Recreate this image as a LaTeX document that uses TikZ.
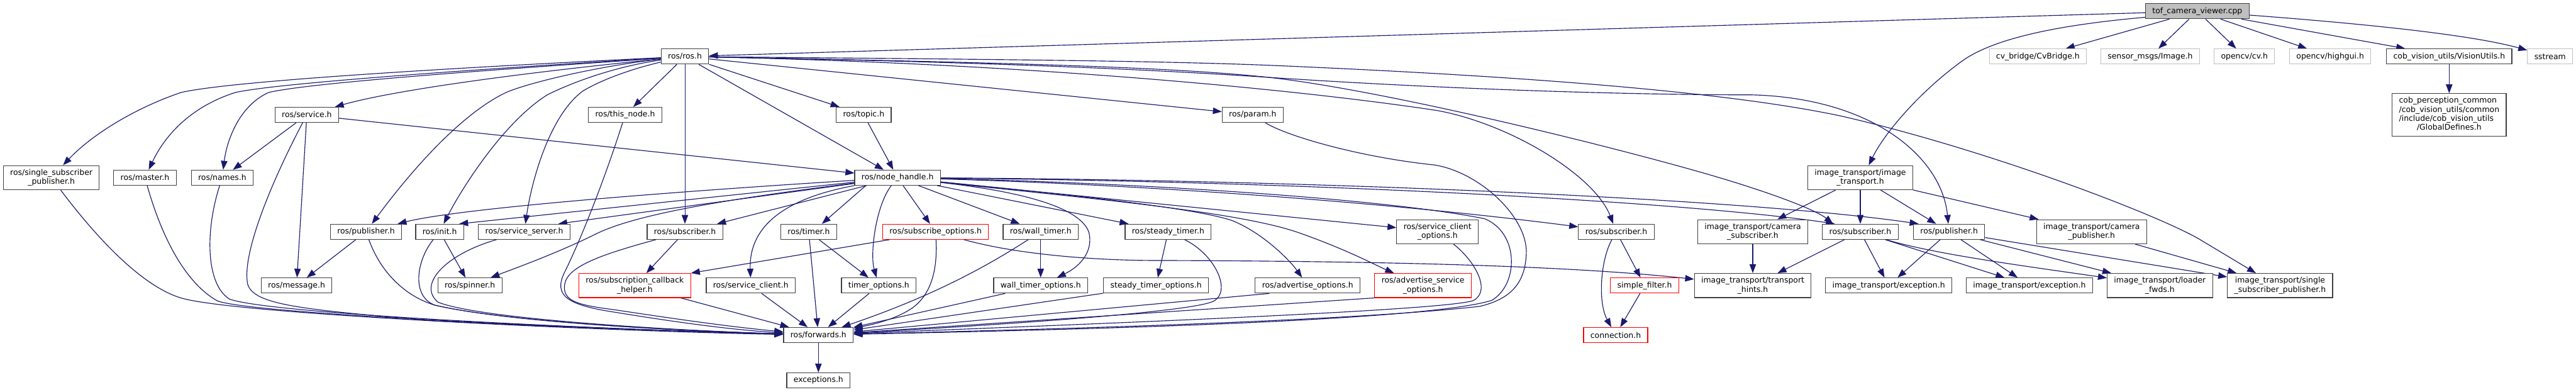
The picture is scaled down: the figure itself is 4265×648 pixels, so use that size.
\documentclass[tikz,border=0pt]{standalone}
\usepackage{fontspec}
\setmainfont{DejaVu Sans}
\usetikzlibrary{arrows.meta,calc}
\definecolor{edgec}{HTML}{191970}
\definecolor{gdark}{HTML}{404040}
\definecolor{glight}{HTML}{BFBFBF}
\newcommand\dxf{\fontsize{9.7}{11.25}\selectfont}
\pgfdeclarelayer{back}
\pgfdeclarelayer{bg}
\pgfsetlayers{back,bg,main}
\begin{document}
\begin{tikzpicture}[x=0.75pt,y=-0.75pt,
  box/.style={draw=gdark, line width=0.9pt, fill=white, font=\dxf, inner xsep=8.5pt, inner ysep=4.5pt, minimum height=18.75pt, align=center},
  redbox/.style={box, draw=red},
  extbox/.style={box, draw=glight},
  mainbox/.style={box, fill=glight},
  dep/.style={draw=edgec, line width=0.9pt, -{Triangle[length=11pt,width=8pt]}}]
\begin{pgfonlayer}{back}
\fill[white] (0,0) rectangle (4265,648);
\end{pgfonlayer}
\useasboundingbox (0,0) rectangle (4265,648);
% row 0/1
\node[mainbox] (T) at (3638,18.5) {tof\_camera\_viewer.cpp};
\node[box] (R) at (1134,93.5) {ros/ros.h};
\node[extbox] (cvb) at (3374,93.5) {cv\_bridge/CvBridge.h};
\node[extbox] (smi) at (3560,93.5) {sensor\_msgs/Image.h};
\node[extbox] (cv) at (3716,93.5) {opencv/cv.h};
\node[extbox] (hg) at (3858,93.5) {opencv/highgui.h};
\node[box] (vu) at (4055,93.5) {cob\_vision\_utils/VisionUtils.h};
\node[extbox] (ss) at (4222,93.5) {sstream};
% row 2
\node[box] (srv) at (508,190) {ros/service.h};
\node[box] (tn) at (1035,190) {ros/this\_node.h};
\node[box] (tp) at (1430,190) {ros/topic.h};
\node[box] (prm) at (2074,190) {ros/param.h};
\node[box, inner ysep=3.75pt] (gd) at (4055,190) {\begin{tabular}{@{}l@{}}cob\_perception\_common\\/cob\_vision\_utils/common\\/include/cob\_vision\_utils\\\multicolumn{1}{@{}c@{}}{/GlobalDefines.h}\end{tabular}};
% row 3
\node[box] (ssp) at (85,294) {ros/single\_subscriber\\\_publisher.h};
\node[box] (mst) at (240,294) {ros/master.h};
\node[box] (nms) at (368,294) {ros/names.h};
\node[box] (nh) at (1486,294) {ros/node\_handle.h};
\node[box] (itr) at (3080,294) {image\_transport/image\\\_transport.h};
% row 4
\node[box] (pub1) at (606,383.5) {ros/publisher.h};
\node[box] (ini) at (728,383.5) {ros/init.h};
\node[box] (ssv) at (868,383.5) {ros/service\_server.h};
\node[box] (sub1) at (1134,383.5) {ros/subscriber.h};
\node[box] (tmr) at (1339,383.5) {ros/timer.h};
\node[redbox] (sbo) at (1549,383.5) {ros/subscribe\_options.h};
\node[box] (wt) at (1723,383.5) {ros/wall\_timer.h};
\node[box] (st) at (1934,383.5) {ros/steady\_timer.h};
\node[box] (sco) at (2380,383.5) {ros/service\_client\\\_options.h};
\node[box] (sub2) at (2676,383.5) {ros/subscriber.h};
\node[box] (csub) at (2902,383.5) {image\_transport/camera\\\_subscriber.h};
\node[box] (sub3) at (3080,383.5) {ros/subscriber.h};
\node[box] (pub2) at (3227,383.5) {ros/publisher.h};
\node[box] (cpub) at (3463,383.5) {image\_transport/camera\\\_publisher.h};
% row 5
\node[box] (msg) at (491,472.5) {ros/message.h};
\node[box] (spn) at (778,472.5) {ros/spinner.h};
\node[redbox] (sch) at (1051,472.5) {ros/subscription\_callback\\\_helper.h};
\node[box] (scl) at (1243,472.5) {ros/service\_client.h};
\node[box] (tmo) at (1455,472.5) {timer\_options.h};
\node[box] (wto) at (1723,472.5) {wall\_timer\_options.h};
\node[box] (sto) at (1914,472.5) {steady\_timer\_options.h};
\node[box] (ao) at (2165,472.5) {ros/advertise\_options.h};
\node[redbox] (aso) at (2356,472.5) {ros/advertise\_service\\\_options.h};
\node[redbox] (sf) at (2723,472.5) {simple\_filter.h};
\node[box] (th) at (2902,472.5) {image\_transport/transport\\\_hints.h};
\node[box] (ex1) at (3127,472.5) {image\_transport/exception.h};
\node[box] (ex2) at (3360,472.5) {image\_transport/exception.h};
\node[box] (lf) at (3576,472.5) {image\_transport/loader\\\_fwds.h};
\node[box] (itssp) at (3775,472.5) {image\_transport/single\\\_subscriber\_publisher.h};
% row 6/7
\node[box] (fw) at (1355,554.5) {ros/forwards.h};
\node[redbox] (con) at (2675,554.5) {connection.h};
\node[box] (exc) at (1355,629.5) {exceptions.h};

\begin{pgfonlayer}{bg}
% from tof_camera_viewer.cpp
\draw[dep] (T) -- (R);
\draw[dep] ($(T.south west)+(0,-3)$) .. controls (3400,42) and (3300,65) .. (3250,100) .. controls (3180,150) and (3120,220) .. ($(itr.north)+(14,0)$);
\draw[dep] (T) -- (cvb);
\draw[dep] (T) -- (smi);
\draw[dep] (T) -- (cv);
\draw[dep] (T) -- (hg);
\draw[dep] (T) -- (vu);
\draw[dep] (T) .. controls (3950,42) and (4100,60) .. (ss);
\draw[dep] (vu) -- (gd);
% from ros/ros.h
\draw[dep] (R) .. controls (900,105) and (400,130) .. (300,153) .. controls (220,180) and (150,225) .. (ssp);
\draw[dep] (R) .. controls (900,108) and (470,135) .. (390,153) .. controls (320,175) and (275,220) .. (mst);
\draw[dep] (R) .. controls (900,110) and (520,135) .. (445,153) .. controls (395,175) and (375,235) .. (nms);
\draw[dep] (R) .. controls (850,122) and (650,150) .. (srv);
\draw[dep] (R) .. controls (1000,108) and (880,135) .. (838,153) .. controls (770,185) and (690,270) .. (pub1);
\draw[dep] (R) .. controls (1020,110) and (950,135) .. (906,157) .. controls (830,205) and (760,320) .. (ini);
\draw[dep] (R) .. controls (1050,113) and (1000,130) .. (966,150) .. controls (910,190) and (880,300) .. (ssv);
\draw[dep] (R) -- (tn);
\draw[dep] (R) -- (sub1);
\draw[dep] (R) -- (nh);
\draw[dep] (R) -- (tp);
\draw[dep] (R) -- (prm);
\draw[dep] (R) .. controls (1700,105) and (2150,148) .. (2380,183) .. controls (2500,205) and (2640,290) .. (sub2);
\draw[dep] (R) .. controls (1700,104) and (1950,112) .. (2100,128) .. controls (2300,150) and (2700,250) .. (2850,295) .. controls (2950,325) and (3010,350) .. ($(sub3.north west)+(18,0)$);
\draw[dep] (R) .. controls (1700,104) and (1950,118) .. (2100,128) .. controls (2400,148) and (2700,157) .. (2900,157) .. controls (3100,162) and (3215,260) .. (pub2);
\draw[dep] (R) .. controls (1600,98) and (1900,100) .. (2100,108) .. controls (2500,125) and (2850,150) .. (3048,192) .. controls (3280,245) and (3560,350) .. (3640,395) .. controls (3690,425) and (3715,440) .. ($(itssp.north)+(-40,0)$);
% from ros/service.h
\draw[dep] (srv) -- (nh);
\draw[dep] (srv) -- (nms);
\draw[dep] (srv) -- (msg);
\draw[dep] (srv) .. controls (450,300) and (400,420) .. (410,470) .. controls (420,505) and (500,512) .. (720,531) .. controls (1000,545) and (1200,550) .. (fw);
% from ros/this_node.h, ros/topic.h, ros/param.h
\draw[dep] (tn) .. controls (1000,300) and (960,400) .. (935,450) .. controls (915,490) and (940,505) .. (1020,517) .. controls (1100,530) and (1200,545) .. (fw);
\draw[dep] (tp) -- (nh);
\draw[dep] (prm) .. controls (2130,225) and (2250,260) .. (2375,273) .. controls (2450,285) and (2530,360) .. (2527,420) .. controls (2525,470) and (2500,495) .. (2450,507) .. controls (2200,535) and (1600,548) .. (fw);
% row 3 to forwards
\draw[dep] (ssp) .. controls (180,420) and (250,480) .. (303,494) .. controls (400,520) and (1000,548) .. (fw);
\draw[dep] (mst) .. controls (270,400) and (310,470) .. (360,498) .. controls (420,520) and (1000,545) .. (fw);
\draw[dep] (nms) .. controls (340,380) and (340,470) .. (380,495) .. controls (450,520) and (1000,545) .. (fw);
% from ros/node_handle.h
\draw[dep] (nh) .. controls (1100,318) and (760,345) .. (pub1);
\draw[dep] (nh) -- ($(ini.north east)+(-8,0)$);
\draw[dep] (nh) -- ($(ssv.north east)+(-20,0)$);
\draw[dep] (nh) .. controls (1200,330) and (1050,355) .. (985,388) .. controls (920,420) and (850,445) .. (spn);
\draw[dep] (nh) -- ($(sub1.north east)+(-10,0)$);
\draw[dep] (nh) .. controls (1290,330) and (1240,380) .. (scl);
\draw[dep] ($(nh.south west)+(19,0)$) -- ($(tmr.north east)+(-25,0)$);
\draw[dep] (nh) .. controls (1450,340) and (1440,420) .. (tmo);
\draw[dep] (nh) -- (sbo);
\draw[dep] (nh) -- (wt);
\draw[dep] (nh) .. controls (1700,318) and (1790,345) .. (1803,385) .. controls (1810,415) and (1790,440) .. (wto);
\draw[dep] (nh) -- (st);
\draw[dep] (nh) .. controls (1800,325) and (1980,345) .. (2040,365) .. controls (2090,385) and (2135,430) .. (ao);
\draw[dep] (nh) .. controls (1800,328) and (2050,350) .. (2150,385) .. controls (2230,413) and (2280,440) .. (aso);
\draw[dep] (nh) -- (sco);
\draw[dep] (nh) .. controls (1900,306) and (2300,335) .. (sub2);
\draw[dep] (nh) .. controls (1900,303) and (2300,330) .. (2458,362) .. controls (2515,385) and (2515,470) .. (2470,497) .. controls (2350,535) and (1650,548) .. (fw);
\draw[dep] (nh) .. controls (2200,301) and (2800,335) .. ($(sub3.north west)+(21,0)$);
\draw[dep] (nh) .. controls (2200,298) and (2900,330) .. ($(pub2.north west)+(9,0)$);
% row 4 left
\draw[dep] (pub1) -- (msg);
\draw[dep] (pub1) .. controls (630,450) and (670,490) .. (720,505) .. controls (850,535) and (1150,548) .. (fw);
\draw[dep] (ini) -- (spn);
\draw[dep] (ini) .. controls (690,430) and (680,490) .. (720,505) .. controls (850,535) and (1150,548) .. (fw);
\draw[dep] (ssv) .. controls (740,420) and (690,470) .. (725,500) .. controls (800,530) and (1150,548) .. (fw);
\draw[dep] (sub1) -- (sch);
\draw[dep] (sub1) .. controls (1000,420) and (940,440) .. (935,470) .. controls (930,500) and (960,505) .. (1020,513) .. controls (1100,525) and (1200,540) .. (fw);
\draw[dep] (sch) -- (fw);
\draw[dep] (scl) -- (fw);
\draw[dep] (tmr) -- (fw);
\draw[dep] (tmr) -- (tmo);
\draw[dep] (tmo) -- (fw);
\draw[dep] ($(sbo.south west)+(12,0)$) -- (sch.north east);
\draw[dep] (sbo) .. controls (1552,440) and (1545,485) .. (1510,510) .. controls (1480,530) and (1440,538) .. (fw);
\draw[dep] (sbo) .. controls (1680,420) and (1800,430) .. (1900,431) .. controls (2300,432) and (2600,440) .. (th);
\draw[dep] (wt) -- (wto);
\draw[dep] (wt) .. controls (1650,430) and (1560,485) .. (fw);
\draw[dep] (wto) -- (fw);
\draw[dep] (st) -- (sto);
\draw[dep] (st) .. controls (2010,420) and (2040,480) .. (2010,498) .. controls (1980,515) and (1700,535) .. (fw);
\draw[dep] (sto) -- (fw);
\draw[dep] ($(ao.south west)+(24,0)$) -- (fw);
\draw[dep] (aso.south west) -- (fw);
\draw[dep] (sco) .. controls (2440,430) and (2470,480) .. (2440,497) .. controls (2400,515) and (1700,540) .. (fw);
\draw[dep] (fw) -- (exc);
% right cluster
\draw[dep] (sub2) -- (sf);
\draw[dep] (sub2) .. controls (2650,430) and (2645,500) .. (con);
\draw[dep] (sf) -- (con);
\draw[dep] (itr) -- (csub);
\draw[dep] (itr) -- (sub3);
\draw[dep] (itr) -- (pub2);
\draw[dep] (itr) -- (cpub);
\draw[dep] (csub) -- (th);
\draw[dep] (sub3) -- (th);
\draw[dep] (sub3) -- (ex1);
\draw[dep] (sub3) -- (ex2);
\draw[dep] (sub3) .. controls (3200,420) and (3350,440) .. (lf);
\draw[dep] (pub2) -- (ex1);
\draw[dep] (pub2) -- (ex2);
\draw[dep] (pub2) -- (lf);
\draw[dep] (pub2) -- (itssp);
\draw[dep] (cpub) -- (itssp);
\end{pgfonlayer}
\end{tikzpicture}
\end{document}
